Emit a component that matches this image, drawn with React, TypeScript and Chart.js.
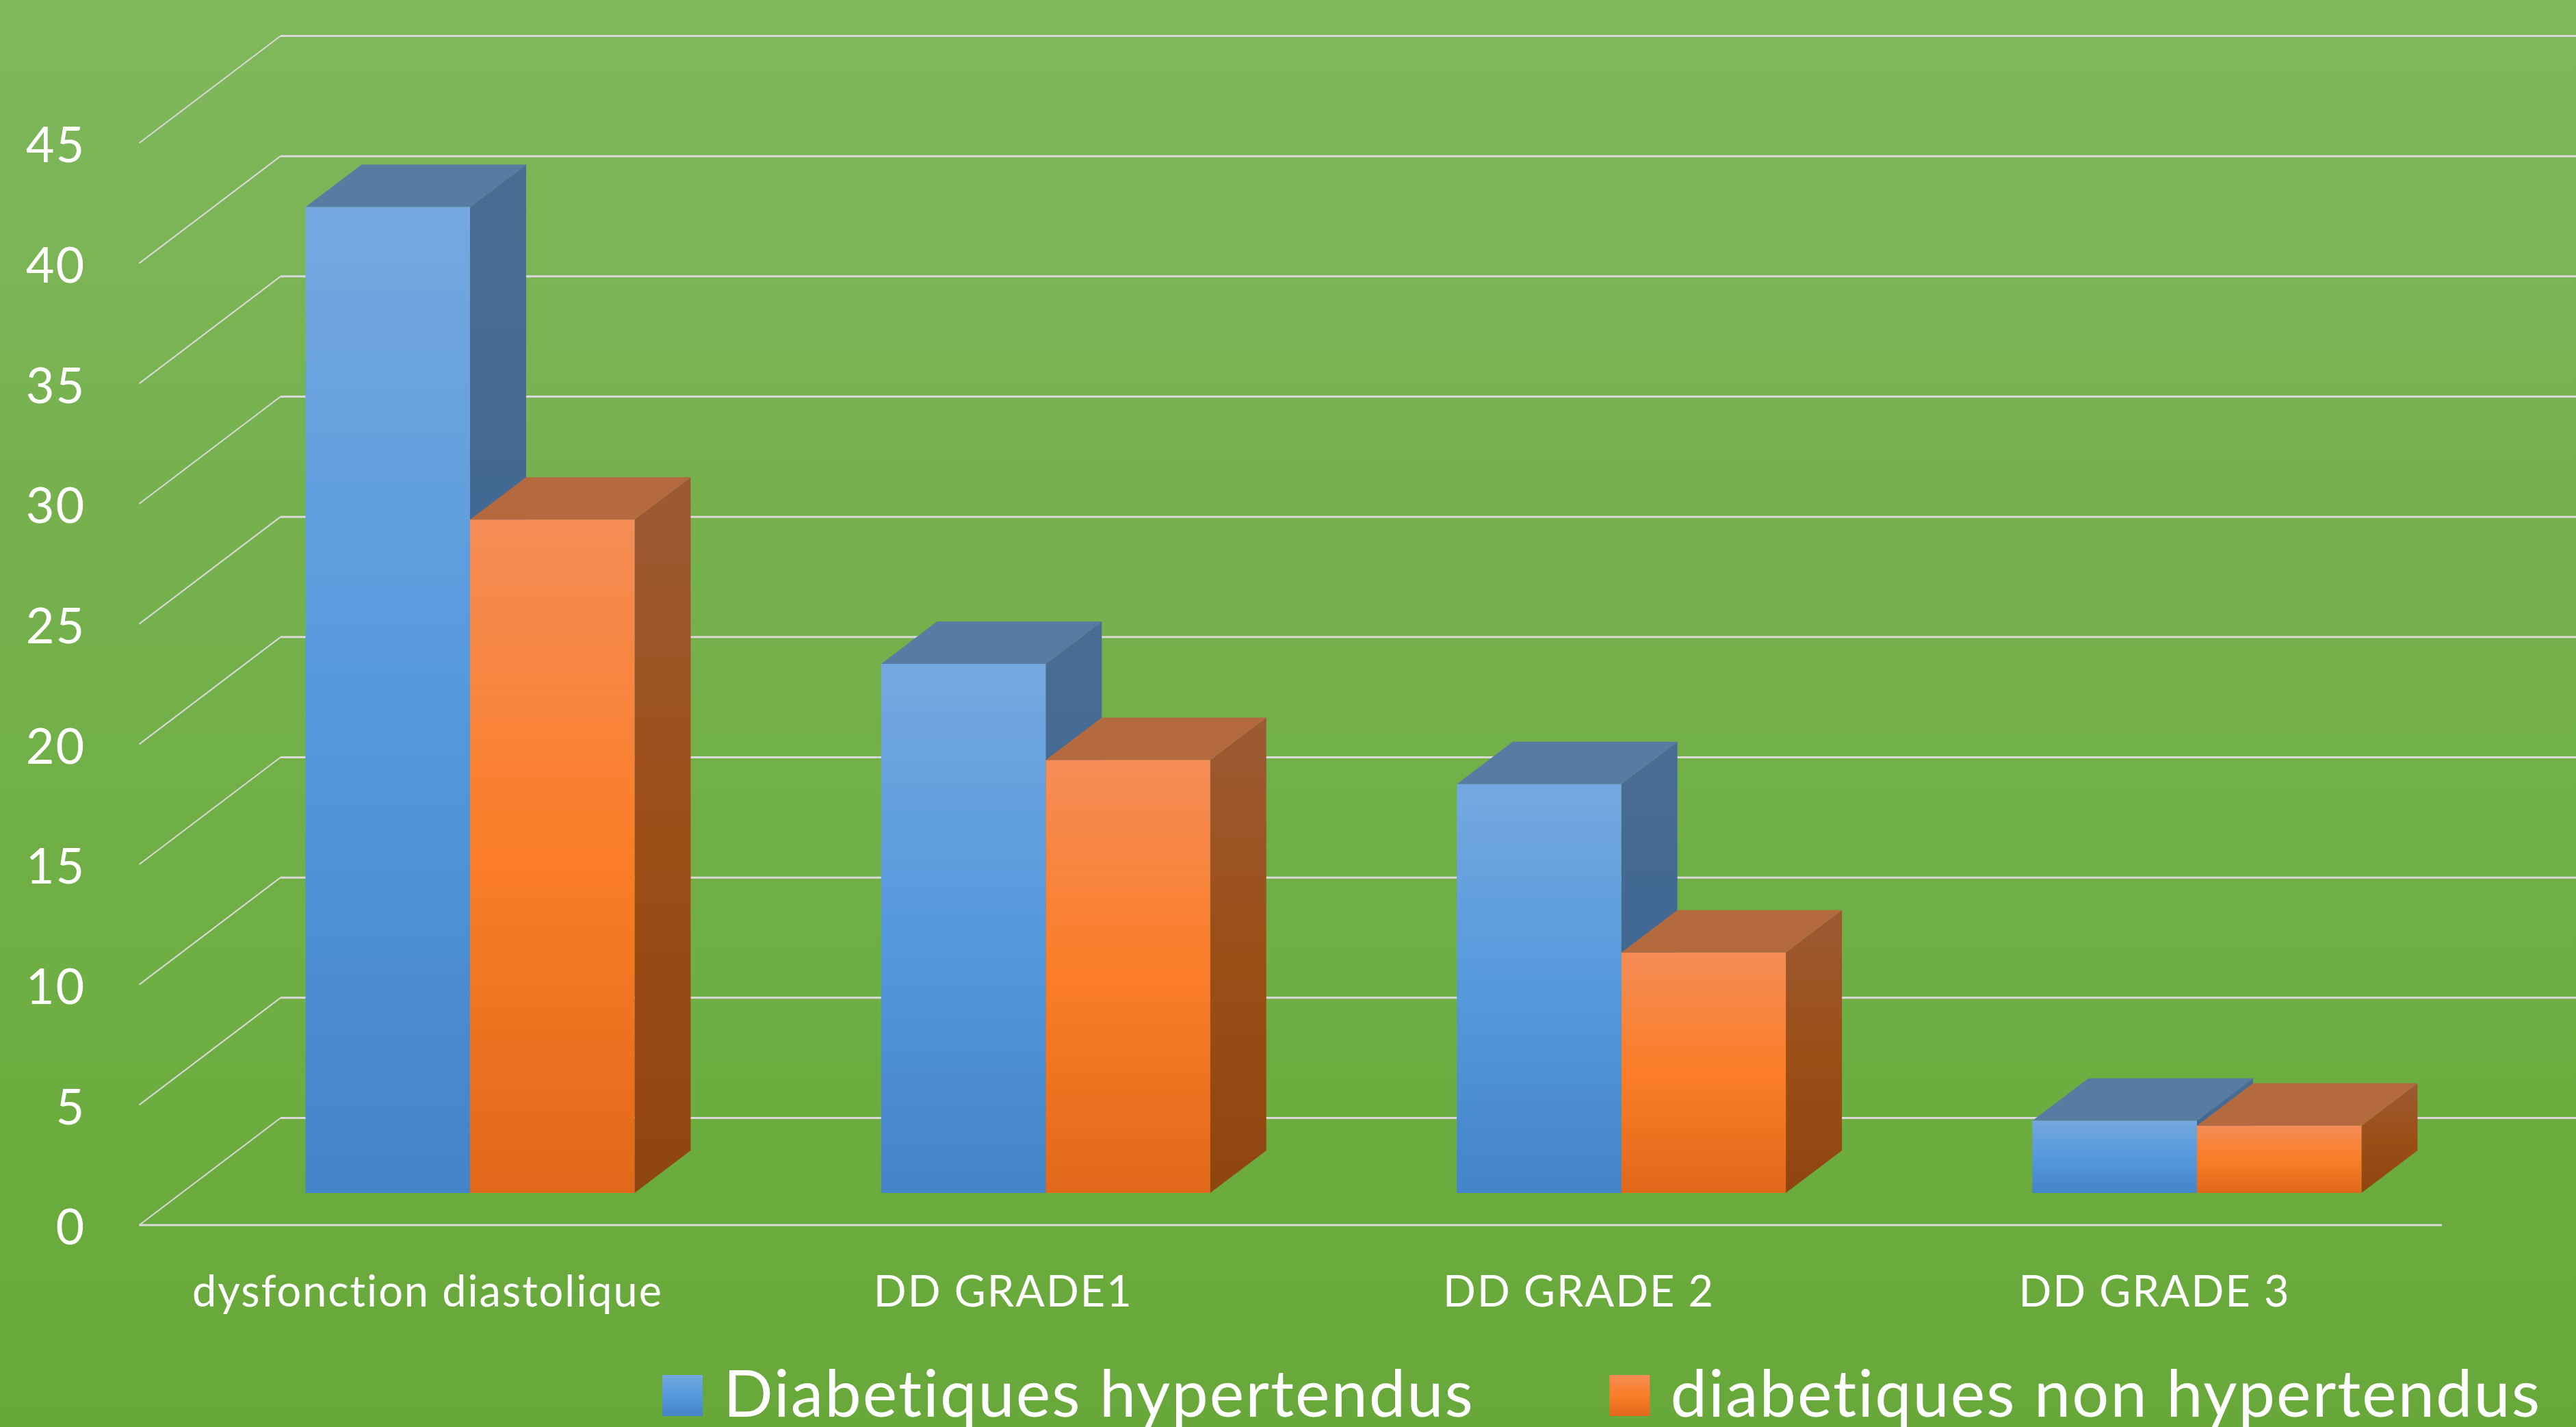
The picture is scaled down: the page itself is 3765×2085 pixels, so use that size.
import React, { useEffect, useRef } from "react";
import { Chart, registerables } from "chart.js";

Chart.register(...registerables);

const categories = ["dysfonction diastolique", "DD GRADE1", "DD GRADE 2", "DD GRADE 3"];
const seriesNames = ["Diabetiques hypertendus", "diabetiques non hypertendus"];
const hypertendus = [41, 22, 17, 3];
const nonHypertendus = [28, 18, 10, 2.8];
const yMax = 45;
const yStep = 5;

const W = 3765;
const H = 2085;
const FONT = "Lato, Carlito, sans-serif";
const LETTER_SPACING = "2px";

// projection of the 3D box
const BAR_DX = 82;
const BAR_DY = 62;
const WALL_DY = 109.5; // bar plane -> back wall
const FRONT_DY = 47; // bar plane -> front edge
const AXIS_LEFT = 203.5;
const WALL_LEFT = 410;
const FLOOR_RIGHT = 3569;

const LEGEND_SIZE = 95.5;
const LEGEND_PAD = 215;
const SWATCH_STROKE = 35;

const FRONT_STOPS = [
  ["#75a8e0", "#5599dd", "#4484c8"],
  ["#f58c56", "#fb7d27", "#e1681a"],
];
const TOP_COLOR = ["#587ba4", "#b5693f"];
const SIDE_STOPS = [
  ["#4a6c93", "#3f6894", "#3a628a"],
  ["#9c5a34", "#9c4f17", "#8f4510"],
];

function gradient(ctx: CanvasRenderingContext2D, top: number, bottom: number, stops: string[]) {
  const g = ctx.createLinearGradient(0, top, 0, bottom);
  stops.forEach((c, i) => g.addColorStop(i / (stops.length - 1), c));
  return g;
}

const scenePlugin = {
  id: "scene",
  beforeLayout(chart: any) {
    chart.ctx.letterSpacing = LETTER_SPACING;
    const legend = chart.legend;
    if (legend && !legend.__wrapped) {
      legend.__wrapped = true;
      const fit = legend.fit;
      legend.fit = function () {
        fit.call(this);
        this.height = 0;
      };
    }
  },
  afterLayout(chart: any) {
    const legend = chart.legend;
    if (!legend) return;
    legend.left = 968 + SWATCH_STROKE / 2 - LEGEND_PAD;
    legend.right = W + 1000;
    legend.top = 2039 - LEGEND_SIZE / 2 - LEGEND_PAD;
  },
  beforeDraw(chart: any) {
    const { ctx } = chart;
    ctx.letterSpacing = LETTER_SPACING;
    const g = ctx.createLinearGradient(0, 0, 0, H);
    g.addColorStop(0, "#80b85c");
    g.addColorStop(0.35, "#76b14e");
    g.addColorStop(0.7, "#6eae42");
    g.addColorStop(1, "#68a83a");
    ctx.save();
    ctx.fillStyle = g;
    ctx.fillRect(0, 0, W, H);
    ctx.restore();
  },
  beforeDatasetsDraw(chart: any) {
    const { ctx, scales } = chart;
    const y = scales.y;
    ctx.save();
    ctx.strokeStyle = "#d9d9d9";
    for (const t of y.ticks) {
      const p = y.getPixelForValue(t.value);
      const back = p - WALL_DY;
      const front = p + FRONT_DY;
      ctx.lineWidth = 2;
      ctx.beginPath();
      ctx.moveTo(AXIS_LEFT, front);
      ctx.lineTo(WALL_LEFT, back);
      ctx.stroke();
      ctx.lineWidth = 3;
      ctx.beginPath();
      ctx.moveTo(WALL_LEFT, back);
      ctx.lineTo(W, back);
      ctx.stroke();
      if (t.value === 0) {
        ctx.beginPath();
        ctx.moveTo(AXIS_LEFT, front);
        ctx.lineTo(FLOOR_RIGHT, front);
        ctx.stroke();
      }
    }
    // depth faces of each bar
    categories.forEach((_, i) => {
      [0, 1].forEach((d) => {
        const el = chart.getDatasetMeta(d).data[i];
        const half = el.width / 2;
        const l = el.x - half;
        const r = el.x + half;
        const top = el.y;
        const base = el.base;
        ctx.fillStyle = gradient(ctx, top - BAR_DY, base, SIDE_STOPS[d]);
        ctx.beginPath();
        ctx.moveTo(r, top);
        ctx.lineTo(r + BAR_DX, top - BAR_DY);
        ctx.lineTo(r + BAR_DX, base - BAR_DY);
        ctx.lineTo(r, base);
        ctx.closePath();
        ctx.fill();
        ctx.fillStyle = TOP_COLOR[d];
        ctx.beginPath();
        ctx.moveTo(l, top);
        ctx.lineTo(l + BAR_DX, top - BAR_DY);
        ctx.lineTo(r + BAR_DX, top - BAR_DY);
        ctx.lineTo(r, top);
        ctx.closePath();
        ctx.fill();
      });
    });
    ctx.restore();
  },
};

function frontFill(d: number) {
  return (c: any) => {
    const { chart, parsed } = c;
    const y = chart.scales?.y;
    if (!y || !parsed) return FRONT_STOPS[d][1];
    return gradient(chart.ctx, y.getPixelForValue(parsed.y), y.getPixelForValue(0), FRONT_STOPS[d]);
  };
}

export default function App() {
  const ref = useRef<HTMLCanvasElement>(null);
  useEffect(() => {
    const chart = new Chart(ref.current!, {
      type: "bar",
      data: {
        labels: categories,
        datasets: [
          { label: seriesNames[0], data: hypertendus, backgroundColor: frontFill(0), borderWidth: 0 },
          { label: seriesNames[1], data: nonHypertendus, backgroundColor: frontFill(1), borderWidth: 0 },
        ],
      },
      plugins: [scenePlugin],
      options: {
        animation: false,
        responsive: false,
        devicePixelRatio: 1,
        events: [],
        layout: { padding: { left: 0, top: 162, right: 133.4, bottom: 0 } },
        datasets: { bar: { barPercentage: 1, categoryPercentage: 0.5717 } },
        scales: {
          x: {
            offset: true,
            grid: { display: false, drawTicks: false },
            border: { display: false },
            afterFit: (s: any) => {
              s.height = 342;
              s.paddingLeft = 0;
              s.paddingRight = 0;
            },
            ticks: {
              color: "#ffffff",
              font: { family: FONT, size: 63 },
              padding: 108,
              labelOffset: -62,
              maxRotation: 0,
              minRotation: 0,
              autoSkip: false,
            },
          },
          y: {
            min: 0,
            max: yMax,
            grid: { display: false, drawTicks: false },
            border: { display: false },
            afterFit: (s: any) => {
              s.width = 266.3;
              s.paddingTop = 0;
              s.paddingBottom = 0;
            },
            ticks: {
              color: "#ffffff",
              stepSize: yStep,
              font: { family: FONT, size: 72 },
              padding: 141,
              labelOffset: FRONT_DY + 5,
            },
          },
        },
        plugins: {
          tooltip: { enabled: false },
          title: { display: false },
          legend: {
            position: "bottom",
            align: "start",
            labels: {
              color: "#ffffff",
              font: { family: FONT, size: LEGEND_SIZE },
              boxWidth: 59 - SWATCH_STROKE,
              boxHeight: 60 - SWATCH_STROKE,
              padding: LEGEND_PAD,
              generateLabels: (ch: any) =>
                seriesNames.map((text, i) => {
                  const g = gradient(ch.ctx, 2009, 2069, FRONT_STOPS[i]);
                  return {
                    text,
                    fillStyle: g,
                    strokeStyle: g,
                    lineWidth: SWATCH_STROKE,
                    fontColor: "#ffffff",
                    hidden: false,
                    datasetIndex: i,
                  };
                }),
            },
          },
        },
      } as any,
    });
    return () => chart.destroy();
  }, []);
  return (
    <canvas
      ref={ref}
      width={W}
      height={H}
      style={{ position: "absolute", left: 0, top: 0, display: "block", width: W, height: H }}
    />
  );
}
